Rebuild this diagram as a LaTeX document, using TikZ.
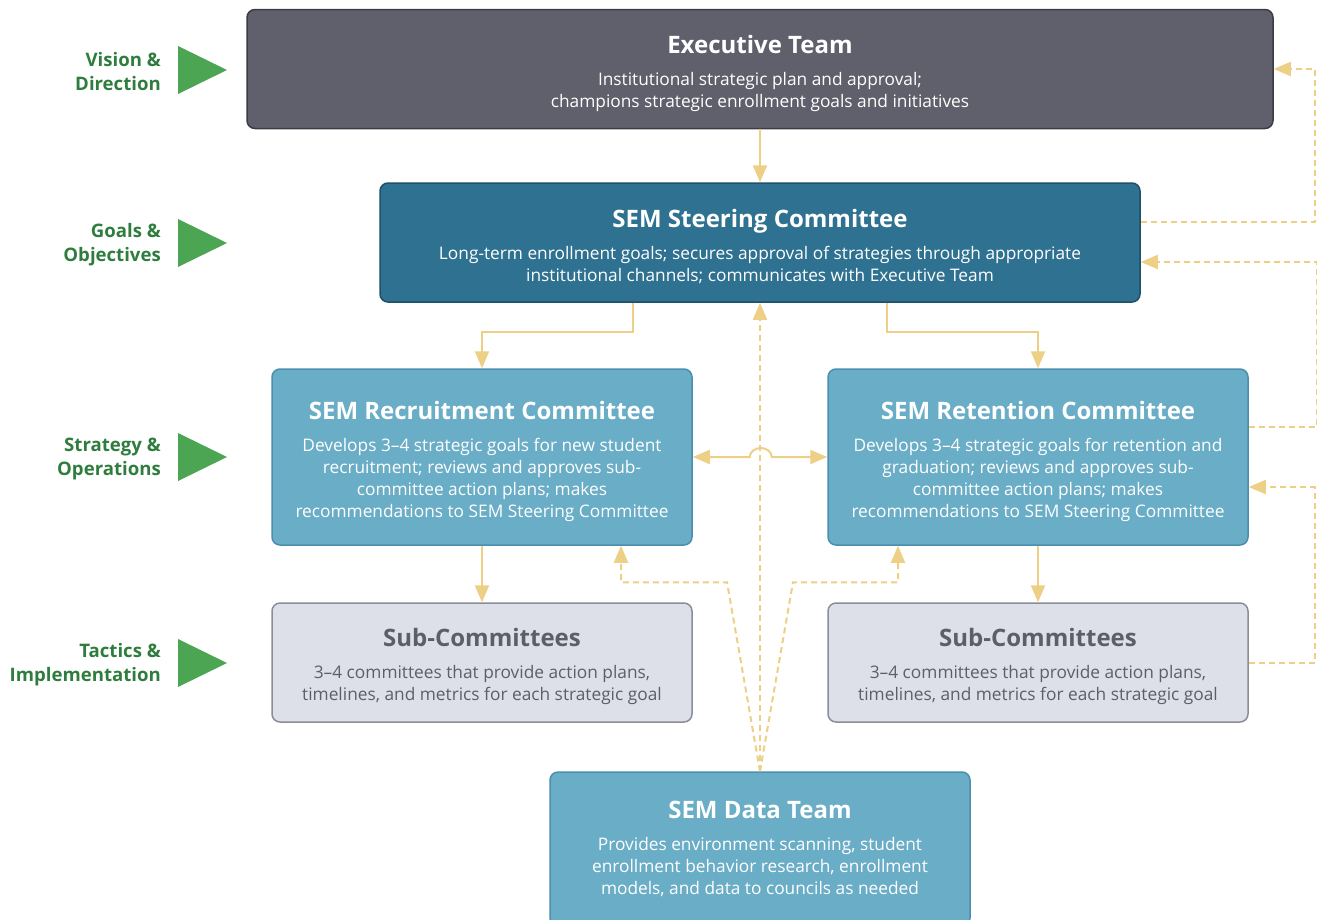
\documentclass[tikz,border=0pt]{standalone}
\usepackage{fontspec}
\setmainfont{Open Sans}
\usetikzlibrary{arrows.meta}

\definecolor{execfill}{HTML}{5F606C}
\definecolor{execline}{HTML}{3B3C45}
\definecolor{steerfill}{HTML}{2E7190}
\definecolor{steerline}{HTML}{1E5068}
\definecolor{comfill}{HTML}{6AADC6}
\definecolor{comline}{HTML}{4B8FAE}
\definecolor{subfill}{HTML}{DDE0E8}
\definecolor{subline}{HTML}{8B8E97}
\definecolor{subtext}{HTML}{5C5F68}
\definecolor{linkgold}{HTML}{EDCF86}
\definecolor{levelgreen}{HTML}{2F7D3E}
\definecolor{flaggreen}{HTML}{4BA553}

\newcommand\boxtitle[1]{{\fontsize{24}{28}\selectfont\bfseries\rule{0pt}{27pt}#1}}

\begin{document}
\begin{tikzpicture}[x=1pt,y=-1pt,
    box/.style={rectangle,rounded corners=8pt,line width=1.5pt,align=center,
        inner sep=0pt,font=\fontsize{17.3}{22}\selectfont},
    link/.style={draw=linkgold,line width=2pt,-{Triangle[length=17pt,width=14pt]}},
    feed/.style={link,dash pattern=on 6pt off 4pt},
    level/.style={align=right,anchor=east,inner sep=0pt,text=levelgreen,
        font=\fontsize{18.6}{24}\selectfont\bfseries}]
    \useasboundingbox (0,0) rectangle (1317,919);
    \clip (0,0) rectangle (1317,919);

    % level labels with their flags
    \foreach \y/\txt [count=\i] in {72/{Vision \&\\Direction},
        245/{Goals \&\\Objectives},
        459/{Strategy \&\\Operations},
        665/{Tactics \&\\Implementation}} {
        \node[level] (lvl\i) at (161,\y) {\txt};
        \fill[flaggreen] (178,\y-26) -- (227,\y-2) -- (178,\y+22) -- cycle;
    }

    % committees
    \node[box,fill=execfill,draw=execline,text=white,minimum width=1026pt,minimum height=119pt]
        (exec) at (760,69) {\boxtitle{Executive Team}\\[10pt]
        Institutional strategic plan and approval;\\
        champions strategic enrollment goals and initiatives};
    \node[box,fill=steerfill,draw=steerline,text=white,minimum width=760pt,minimum height=119pt]
        (steer) at (760,242.5) {\boxtitle{SEM Steering Committee}\\[10pt]
        Long-term enrollment goals; secures approval of strategies through appropriate\\
        institutional channels; communicates with Executive Team};
    \node[box,fill=comfill,draw=comline,text=white,minimum width=420pt,minimum height=176pt]
        (recruit) at (482,457) {\boxtitle{SEM Recruitment Committee}\\[10pt]
        Develops 3–4 strategic goals for new student\\
        recruitment; reviews and approves sub-\\
        committee action plans; makes\\
        recommendations to SEM Steering Committee};
    \node[box,fill=comfill,draw=comline,text=white,minimum width=420pt,minimum height=176pt]
        (retain) at (1038,457) {\boxtitle{SEM Retention Committee}\\[10pt]
        Develops 3–4 strategic goals for retention and\\
        graduation; reviews and approves sub-\\
        committee action plans; makes\\
        recommendations to SEM Steering Committee};
    \node[box,fill=subfill,draw=subline,text=subtext,minimum width=420pt,minimum height=119pt]
        (subL) at (482,662.5) {\boxtitle{Sub-Committees}\\[10pt]
        3–4 committees that provide action plans,\\
        timelines, and metrics for each strategic goal};
    \node[box,fill=subfill,draw=subline,text=subtext,minimum width=420pt,minimum height=119pt]
        (subR) at (1038,662.5) {\boxtitle{Sub-Committees}\\[10pt]
        3–4 committees that provide action plans,\\
        timelines, and metrics for each strategic goal};
    % runs off the bottom edge
    \node[box,fill=comfill,draw=comline,text=white,minimum width=420pt,minimum height=154pt]
        (data) at (760,849) {\boxtitle{SEM Data Team}\\[10pt]
        Provides environment scanning, student\\
        enrollment behavior research, enrollment\\
        models, and data to councils as needed\rule[-12pt]{0pt}{0pt}};

    % reporting lines
    \draw[link] (exec.south) -- (steer.north);
    \draw[link] ([xshift=-127pt]steer.south) -- ++(0,29) -| (recruit.north);
    \draw[link] ([xshift=127pt]steer.south) -- ++(0,29) -| (retain.north);
    \draw[link] (recruit.south) -- (subL.north);
    \draw[link] (retain.south) -- (subR.north);
    \draw[link,{Triangle[length=17pt,width=14pt]}-{Triangle[length=17pt,width=14pt]}]
        (recruit.east) -- ++(57,0) arc(180:360:11 and 9) -- (retain.west);

    % feedback lines
    \draw[feed] ([yshift=20.5pt]steer.east) -| ([xshift=41pt]exec.east) -- (exec.east);
    \draw[feed] ([yshift=30pt]retain.east) -| ([xshift=176pt,yshift=-19.5pt]steer.east)
        -- ([yshift=-19.5pt]steer.east);
    \draw[feed] (subR.east) -| ([xshift=66pt,yshift=-30pt]retain.east) -- ([yshift=-30pt]retain.east);
    \draw[feed] (data.north) -- (steer.south);
    \draw[feed] (data.north) -- ++(-33,-189) -| ([xshift=139pt]recruit.south);
    \draw[feed] (data.north) -- ++(33,-189) -| ([xshift=-140pt]retain.south);
\end{tikzpicture}
\end{document}
